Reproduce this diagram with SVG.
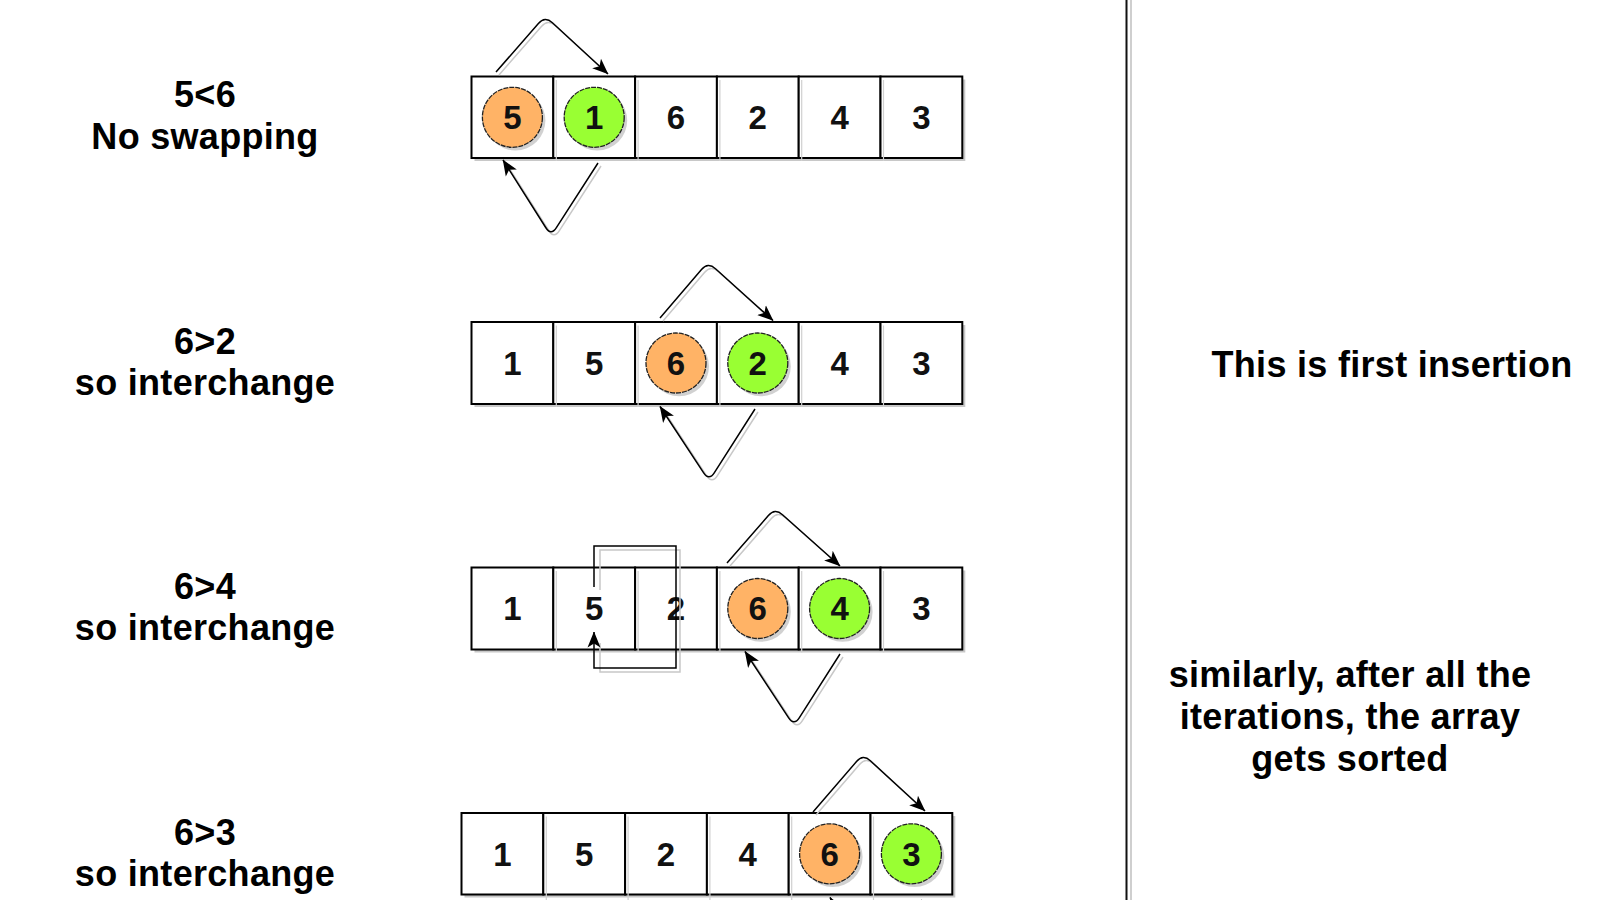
<svg xmlns="http://www.w3.org/2000/svg" width="1600" height="900" viewBox="0 0 1600 900">
<defs>
<style>
.lbl{font-family:"Liberation Sans",Arial,sans-serif;font-weight:bold;font-size:36px;fill:#000;text-anchor:middle;letter-spacing:0.3px}
.num{font-family:"Liberation Sans",Arial,sans-serif;font-weight:bold;font-size:33px;fill:#111;text-anchor:middle}
.cell{fill:#fff;stroke:#000;stroke-width:2}
.rowsh{fill:#c8c8c8}
.inl{stroke:#d0d0d0;stroke-width:1.2}
.cir-o{fill:#FFB366;stroke:#222;stroke-width:1.3;stroke-dasharray:5 1}
.cir-g{fill:#99FF33;stroke:#222;stroke-width:1.3;stroke-dasharray:5 1}
.cirsh{fill:#999;opacity:0.45}
.arr{fill:none;stroke:#000;stroke-width:1.5;marker-end:url(#ah)}
.arrsh{fill:none;stroke:#c8c8c8;stroke-width:1.5}
</style>
<marker id="ah" viewBox="0 0 16 16" refX="15.5" refY="8" markerWidth="16" markerHeight="16" markerUnits="userSpaceOnUse" orient="auto">
<path d="M0,1.5 L16,8 L0,14.5 L4,8 z" fill="#000"/>
</marker>
</defs>
<rect width="1600" height="900" fill="#fff"/>

<!-- Left labels -->
<g id="label1"><text class="lbl" x="205" y="107">5&lt;6</text><text class="lbl" x="205" y="149">No swapping</text></g>
<g id="label2"><text class="lbl" x="205" y="353.5">6&gt;2</text><text class="lbl" x="205" y="394.5">so interchange</text></g>
<g id="label3"><text class="lbl" x="205" y="599">6&gt;4</text><text class="lbl" x="205" y="640">so interchange</text></g>
<g id="label4"><text class="lbl" x="205" y="844.5">6&gt;3</text><text class="lbl" x="205" y="885.5">so interchange</text></g>

<!-- Row 1 -->
<g id="row1">
<rect class="rowsh" x="474.5" y="79.5" width="490.8" height="81.5"/>
<rect class="cell" x="471.5" y="76.5" width="81.8" height="81.5"/>
<rect class="cell" x="553.3" y="76.5" width="81.8" height="81.5"/>
<rect class="cell" x="635.1" y="76.5" width="81.8" height="81.5"/>
<rect class="cell" x="716.9" y="76.5" width="81.8" height="81.5"/>
<rect class="cell" x="798.7" y="76.5" width="81.8" height="81.5"/>
<rect class="cell" x="880.5" y="76.5" width="81.8" height="81.5"/>
<g class="inl"><line x1="556.3" y1="80" x2="556.3" y2="161"/><line x1="638.1" y1="80" x2="638.1" y2="161"/><line x1="719.9" y1="80" x2="719.9" y2="161"/><line x1="801.7" y1="80" x2="801.7" y2="161"/><line x1="883.5" y1="80" x2="883.5" y2="161"/></g>
<circle class="cirsh" cx="515.4" cy="120.5" r="30"/>
<circle class="cir-o" cx="512.4" cy="117.3" r="30"/>
<circle class="cirsh" cx="597.2" cy="120.5" r="30"/>
<circle class="cir-g" cx="594.2" cy="117.3" r="30"/>
<text class="num" x="512.4" y="129">5</text>
<text class="num" x="594.2" y="129">1</text>
<text class="num" x="676" y="129">6</text>
<text class="num" x="757.8" y="129">2</text>
<text class="num" x="839.6" y="129">4</text>
<text class="num" x="921.4" y="129">3</text>
</g>

<!-- Row 2 -->
<g id="row2">
<rect class="rowsh" x="474.5" y="325" width="490.8" height="82"/>
<rect class="cell" x="471.5" y="322" width="81.8" height="82"/>
<rect class="cell" x="553.3" y="322" width="81.8" height="82"/>
<rect class="cell" x="635.1" y="322" width="81.8" height="82"/>
<rect class="cell" x="716.9" y="322" width="81.8" height="82"/>
<rect class="cell" x="798.7" y="322" width="81.8" height="82"/>
<rect class="cell" x="880.5" y="322" width="81.8" height="82"/>
<g class="inl"><line x1="556.3" y1="325.5" x2="556.3" y2="407"/><line x1="638.1" y1="325.5" x2="638.1" y2="407"/><line x1="719.9" y1="325.5" x2="719.9" y2="407"/><line x1="801.7" y1="325.5" x2="801.7" y2="407"/><line x1="883.5" y1="325.5" x2="883.5" y2="407"/></g>
<circle class="cirsh" cx="679" cy="366.2" r="30"/>
<circle class="cir-o" cx="676" cy="363" r="30"/>
<circle class="cirsh" cx="760.8" cy="366.2" r="30"/>
<circle class="cir-g" cx="757.8" cy="363" r="30"/>
<text class="num" x="512.4" y="374.7">1</text>
<text class="num" x="594.2" y="374.7">5</text>
<text class="num" x="676" y="374.7">6</text>
<text class="num" x="757.8" y="374.7">2</text>
<text class="num" x="839.6" y="374.7">4</text>
<text class="num" x="921.4" y="374.7">3</text>
</g>

<!-- Row 3 -->
<g id="row3">
<rect class="rowsh" x="474.5" y="570.5" width="490.8" height="82"/>
<rect class="cell" x="471.5" y="567.5" width="81.8" height="82"/>
<rect class="cell" x="553.3" y="567.5" width="81.8" height="82"/>
<rect class="cell" x="635.1" y="567.5" width="81.8" height="82"/>
<rect class="cell" x="716.9" y="567.5" width="81.8" height="82"/>
<rect class="cell" x="798.7" y="567.5" width="81.8" height="82"/>
<rect class="cell" x="880.5" y="567.5" width="81.8" height="82"/>
<g class="inl"><line x1="556.3" y1="571" x2="556.3" y2="652.5"/><line x1="638.1" y1="571" x2="638.1" y2="652.5"/><line x1="719.9" y1="571" x2="719.9" y2="652.5"/><line x1="801.7" y1="571" x2="801.7" y2="652.5"/><line x1="883.5" y1="571" x2="883.5" y2="652.5"/></g>
<circle class="cirsh" cx="760.8" cy="611.7" r="30"/>
<circle class="cir-o" cx="757.8" cy="608.5" r="30"/>
<circle class="cirsh" cx="842.6" cy="611.7" r="30"/>
<circle class="cir-g" cx="839.6" cy="608.5" r="30"/>
<text class="num" x="512.4" y="620.2">1</text>
<text class="num" x="594.2" y="620.2">5</text>
<text class="num" x="676" y="620.2">2</text>
<text class="num" x="757.8" y="620.2">6</text>
<text class="num" x="839.6" y="620.2">4</text>
<text class="num" x="921.4" y="620.2">3</text>
</g>

<!-- Row 4 -->
<g id="row4">
<rect class="rowsh" x="464.5" y="816" width="490.8" height="81.5"/>
<rect class="cell" x="461.5" y="813" width="81.8" height="81.5"/>
<rect class="cell" x="543.3" y="813" width="81.8" height="81.5"/>
<rect class="cell" x="625.1" y="813" width="81.8" height="81.5"/>
<rect class="cell" x="706.9" y="813" width="81.8" height="81.5"/>
<rect class="cell" x="788.7" y="813" width="81.8" height="81.5"/>
<rect class="cell" x="870.5" y="813" width="81.8" height="81.5"/>
<g class="inl"><line x1="546.3" y1="816.5" x2="546.3" y2="900"/><line x1="628.1" y1="816.5" x2="628.1" y2="900"/><line x1="709.9" y1="816.5" x2="709.9" y2="900"/><line x1="791.7" y1="816.5" x2="791.7" y2="900"/><line x1="873.5" y1="816.5" x2="873.5" y2="900"/></g>
<circle class="cirsh" cx="832.6" cy="857" r="30"/>
<circle class="cir-o" cx="829.6" cy="853.8" r="30"/>
<circle class="cirsh" cx="914.4" cy="857" r="30"/>
<circle class="cir-g" cx="911.4" cy="853.8" r="30"/>
<text class="num" x="502.4" y="865.5">1</text>
<text class="num" x="584.2" y="865.5">5</text>
<text class="num" x="666" y="865.5">2</text>
<text class="num" x="747.8" y="865.5">4</text>
<text class="num" x="829.6" y="865.5">6</text>
<text class="num" x="911.4" y="865.5">3</text>
</g>

<!-- Connectors -->
<g id="connectors">
<g transform="translate(3,3)">
<path class="arrsh" d="M496,72 L538.4,23.5 Q545,16 552.4,22.8 L604,70"/>
<path class="arrsh" d="M598,163 L556.4,227.6 Q551,236 545.7,227.5 L506,165"/>
<path class="arrsh" d="M660,318 L701.5,269.6 Q708,262 715.5,268.7 L769,317"/>
<path class="arrsh" d="M755,409 L714.4,472.6 Q709,481 703.5,472.6 L663,411"/>
<path class="arrsh" d="M727,563 L768.4,515.5 Q775,508 782.5,514.7 L836,562"/>
<path class="arrsh" d="M840,654 L799.4,717.6 Q794,726 788.5,717.6 L748,656"/>
<path class="arrsh" d="M813,812 L856.5,761.6 Q863,754 870.4,760.8 L921,807"/>
<path class="arrsh" d="M597,587 V547 H677 V669 H597 V640"/>
</g>
<path class="arr" d="M496,72 L538.4,23.5 Q545,16 552.4,22.8 L608,74"/>
<path class="arr" d="M598,163 L556.4,227.6 Q551,236 545.7,227.5 L503,160"/>
<path class="arr" d="M660,318 L701.5,269.6 Q708,262 715.5,268.7 L773,320.5"/>
<path class="arr" d="M755,409 L714.4,472.6 Q709,481 703.5,472.6 L660,406.5"/>
<path class="arr" d="M727,563 L768.4,515.5 Q775,508 782.5,514.7 L840,566"/>
<path class="arr" d="M840,654 L799.4,717.6 Q794,726 788.5,717.6 L745,651.5"/>
<path class="arr" d="M813,812 L856.5,761.6 Q863,754 870.4,760.8 L925,811"/>
<path class="arr" d="M922,900 L876,972 L830,897.5"/>
<path class="arr" d="M594,587 V546 H676 V668 H594 V632"/>
</g>

<!-- Divider -->
<g id="divider">
<line x1="1131" y1="0" x2="1131" y2="900" stroke="#cfcfcf" stroke-width="2"/>
<line x1="1126.5" y1="0" x2="1126.5" y2="900" stroke="#111" stroke-width="2"/>
</g>

<!-- Right notes -->
<g id="note1"><text class="lbl" x="1392" y="376.5">This is first insertion</text></g>
<g id="note2"><text class="lbl" x="1350" y="686.5">similarly, after all the</text><text class="lbl" x="1350" y="728.5">iterations, the array</text><text class="lbl" x="1350" y="770.5">gets sorted</text></g>
</svg>
